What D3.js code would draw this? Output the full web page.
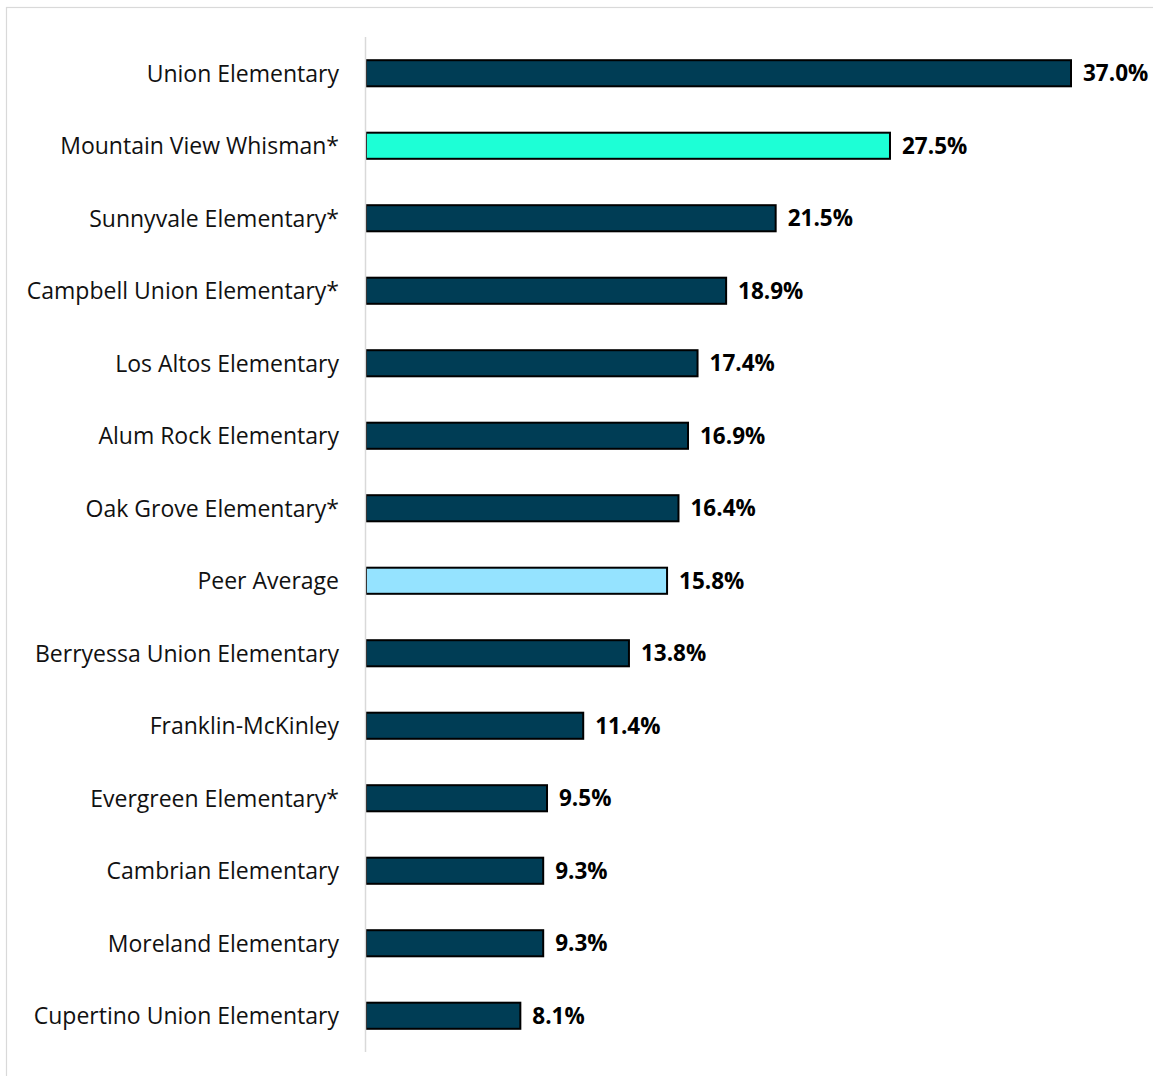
<!DOCTYPE html>
<html>
<head>
<meta charset="utf-8">
<script src="https://cdn.jsdelivr.net/npm/d3@7"></script>
<style>
  body { margin: 0; background: #fff; }
  svg { display: block; }
</style>
</head>
<body>
<svg id="viz"></svg>
<script>
// districts, top to bottom
const districts = [
  "Union Elementary",
  "Mountain View Whisman*",
  "Sunnyvale Elementary*",
  "Campbell Union Elementary*",
  "Los Altos Elementary",
  "Alum Rock Elementary",
  "Oak Grove Elementary*",
  "Peer Average",
  "Berryessa Union Elementary",
  "Franklin-McKinley",
  "Evergreen Elementary*",
  "Cambrian Elementary",
  "Moreland Elementary",
  "Cupertino Union Elementary"
];
const values = [37.0, 27.5, 21.5, 18.9, 17.4, 16.9, 16.4, 15.8, 13.8, 11.4, 9.5, 9.3, 9.3, 8.1];
const highlight = "Mountain View Whisman*";
const average = "Peer Average";

const W = 1153, H = 1076;
const font = "'Open Sans', 'DejaVu Sans', sans-serif";
const svg = d3.select("#viz").attr("width", W).attr("height", H);

// chart frame (runs off the right / bottom edge)
svg.append("rect")
  .attr("x", 6.5).attr("y", 7.5)
  .attr("width", W + 10).attr("height", H + 10)
  .attr("fill", "none")
  .attr("stroke", "#d9d9d9")
  .attr("stroke-width", 1.2);

const x0 = 366;
const x = d3.scaleLinear().domain([0, 37]).range([x0, 1071]);
const y = d3.scaleBand().domain(districts).range([37, 1052]).paddingInner(0.64).paddingOuter(0.32);

const data = districts.map((d, i) => ({ name: d, value: values[i] }));

function fillFor(name) {
  if (name === highlight) return "#1dffd6";
  if (name === average) return "#95e3ff";
  return "#003d55";
}

svg.selectAll("rect.bar")
  .data(data)
  .join("rect")
  .attr("class", "bar")
  .attr("x", x0)
  .attr("y", d => y(d.name))
  .attr("width", d => x(d.value) - x0)
  .attr("height", y.bandwidth())
  .attr("fill", d => fillFor(d.name))
  .attr("stroke", "#000")
  .attr("stroke-width", 2);

// category axis line
svg.append("line")
  .attr("x1", x0 - 0.5).attr("x2", x0 - 0.5)
  .attr("y1", 37).attr("y2", 1052)
  .attr("stroke", "#d9d9d9")
  .attr("stroke-width", 1.5);

svg.selectAll("text.cat")
  .data(data)
  .join("text")
  .attr("class", "cat")
  .attr("x", 339)
  .attr("y", d => y(d.name) + y.bandwidth() / 2)
  .attr("dy", "0.36em")
  .attr("text-anchor", "end")
  .attr("font-family", font)
  .attr("font-size", 23)
  .attr("fill", "#111")
  .text(d => d.name);

svg.selectAll("text.val")
  .data(data)
  .join("text")
  .attr("class", "val")
  .attr("x", d => x(d.value) + 12)
  .attr("y", d => y(d.name) + y.bandwidth() / 2)
  .attr("dy", "0.36em")
  .attr("font-family", font)
  .attr("font-weight", "bold")
  .attr("font-size", 22.5)
  .attr("fill", "#000")
  .text(d => d.value.toFixed(1) + "%");
</script>
</body>
</html>
